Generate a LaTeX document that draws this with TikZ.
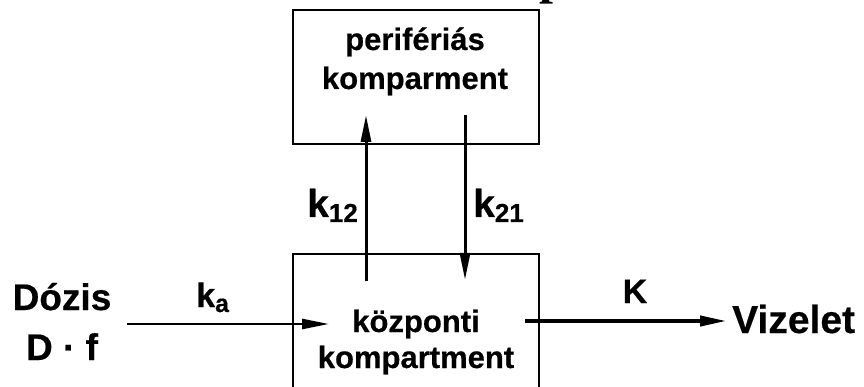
\documentclass[tikz,border=0pt]{standalone}
\usepackage{fontspec}
\setmainfont{Liberation Sans}[BoldFeatures={FakeBold=0.5}]
\newfontfamily\seriffont{Liberation Serif}
\usetikzlibrary{arrows.meta}
\newcommand\fsz[1]{\fontsize{#1}{#1}\selectfont}
\begin{document}
\begin{tikzpicture}[x=1pt,y=-1pt,
  boxstyle/.style={draw,line width=1.5pt,rectangle,inner sep=0pt},
  lbl/.style={inner sep=0pt,font=\bfseries},
  tip/.style={-{Triangle[length=27pt,width=10pt]}},
  ]
\useasboundingbox (0,0) rectangle (864,387);
\clip (0,0) rectangle (864,387);
\fill[white] (0,0) rectangle (864,387);
% cut-off title fragment
\node[lbl,anchor=base west,font=\seriffont\bfseries\fsz{50}] (frag) at (539,-6) {p};
% boxes
\node[boxstyle,minimum width=246pt,minimum height=134pt] (peri) at (416,77) {};
\node[boxstyle,minimum width=246pt,minimum height=180pt] (cent) at (416,344) {};
% box texts (base anchor = baseline of last line)
\node[lbl,anchor=base,font=\bfseries\fontsize{31}{39}\selectfont,align=center] (peritext) at (415,89) {perifériás\\komparment};
\node[lbl,anchor=base,font=\bfseries\fontsize{31}{36}\selectfont,align=center] (centtext) at (416,368) {központi\\kompartment};
% labels
\node[lbl,anchor=base,font=\bfseries\fsz{37}] (dozis) at (62,310) {Dózis};
\node[lbl,anchor=base,font=\bfseries\fsz{37}] (df) at (62,360) {D · f};
\node[lbl,anchor=base west,font=\bfseries\fsz{39}] (viz) at (732,333) {Vizelet};
\node[lbl,anchor=base west,font=\bfseries\fsz{34}] (ka) at (196,307) {k\raisebox{-5pt}{\fsz{25}a}};
\node[lbl,anchor=base,font=\bfseries\fsz{34}] (K) at (635,303) {K};
\node[lbl,anchor=base west,font=\bfseries\fsz{39}] (k12) at (307,217) {k\raisebox{-5pt}{\fsz{26}12}};
\node[lbl,anchor=base west,font=\bfseries\fsz{39}] (k21) at (473,217) {k\raisebox{-5pt}{\fsz{26}21}};
% connector end points
\coordinate (a1) at (127,324);
\coordinate (a2) at (329,324);
\coordinate (b1) at (525,321);
\coordinate (b2) at (727,321);
\coordinate (u1) at (366,281);
\coordinate (u2) at (366,115);
\coordinate (d1) at (465,115);
\coordinate (d2) at (465,280);
% connectors
\draw[tip,line width=2.5pt] (a1) -- (a2);
\draw[tip,line width=4pt] (b1) -- (b2);
\draw[tip,line width=3pt] (u1) -- (u2);
\draw[tip,line width=3pt] (d1) -- (d2);
\end{tikzpicture}
\end{document}
